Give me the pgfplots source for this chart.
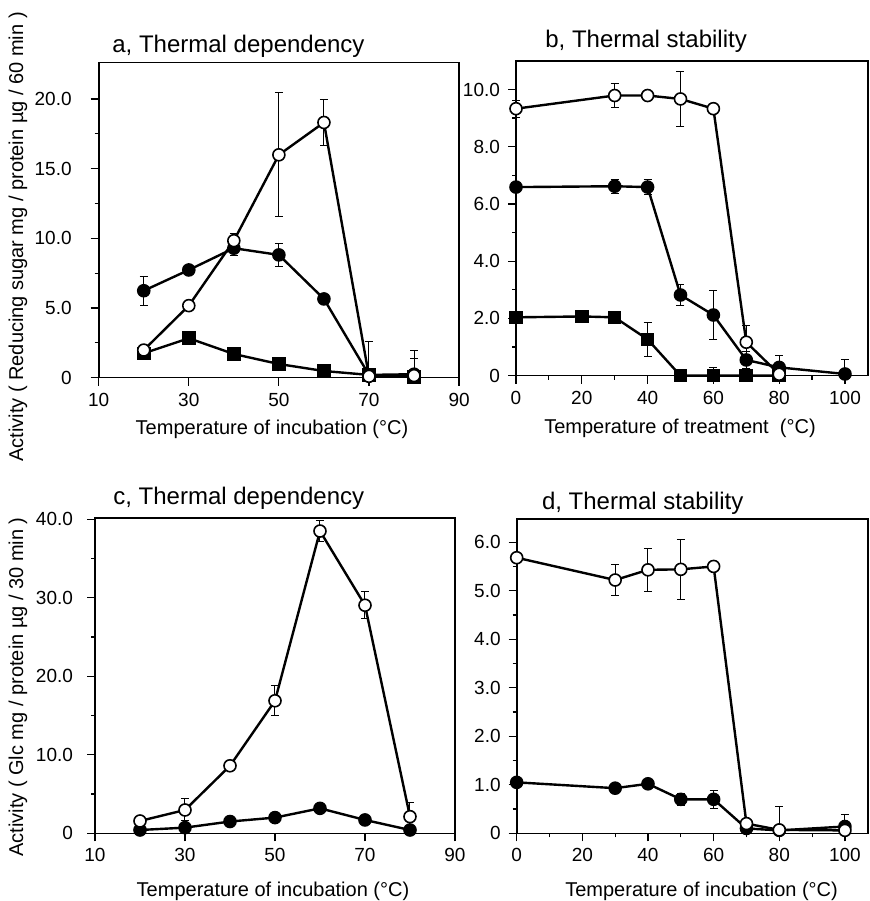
\documentclass[border=0pt]{standalone}
\usepackage{fontspec}
\setmainfont{Liberation Sans}
\usepackage{pgfplots}
\pgfplotsset{compat=1.18}

\pgfplotsset{
  panel/.style={
    scale only axis, anchor=south west, clip=false,
    axis line style={line width=0.8pt},
    tick align=outside, xtick pos=bottom, ytick pos=left,
    major tick length=4pt, minor tick length=2pt,
    tick style={line width=0.6pt, black},
    minor y tick num=1,
    tick label style={font=\fontsize{9.5}{10}\selectfont},
    /pgf/number format/assume math mode=true,
  },
  series/.style={black, line width=1.2pt, mark size=3pt,
    error bars/.cd, y dir=both, y explicit,
    error bar style={line width=0.5pt},
    error mark options={rotate=90, mark size=2pt, line width=0.5pt},
    /pgfplots/.cd},
  filled/.style={series, mark=*, mark options={solid, fill=black, line width=0.8pt}},
  open/.style={series, mark=*, mark options={solid, fill=white, line width=0.8pt}},
  square/.style={series, mark=square*, mark options={solid, fill=black, line width=0.8pt}},
}
\tikzset{
  ttl/.style={anchor=base west, inner sep=0pt, font=\fontsize{12}{14}\selectfont},
  lbl/.style={inner sep=0pt, font=\fontsize{10}{12}\selectfont},
}

\begin{document}
\begin{tikzpicture}
\useasboundingbox (0,0) rectangle (435pt,450.5pt);

% a, Thermal dependency
\begin{axis}[panel, at={(49.35pt,261.65pt)}, width=180.2pt, height=157.5pt,
  xmin=10, xmax=90, ymin=0, ymax=22.6,
  xtick={10,30,50,70,90}, yticklabel style={xshift=-6pt},
  ytick={0,5,10,15,20}, yticklabels={0,5.0,10.0,15.0,20.0}]
\addplot[square] coordinates {
  (20,1.75) +- (0,0.45) (30,2.83) (40,1.70)
  (50,0.98) (60,0.48) (70,0.2) (80,0.05)};
\addplot[filled] coordinates {
  (20,6.24) +- (0,1.05) (30,7.73) (40,9.29) +- (0,0.55)
  (50,8.81) +- (0,0.84) (60,5.65) (70,0.2) (80,0.25) += (0,1.15) -= (0,0.25)};
\addplot[open] coordinates {
  (20,1.98) +- (0,0.3) (30,5.17) (40,9.83) +- (0,0.55)
  (50,15.99) +- (0,4.45) (60,18.31) +- (0,1.67)
  (70,0.1) += (0,2.48) -= (0,0.1) (80,0.15) += (0,1.83) -= (0,0.15)};
\end{axis}

% b, Thermal stability
\begin{axis}[panel, at={(258pt,262.65pt)}, width=176pt, height=157.4pt,
  xmin=0, xmax=107, ymin=0, ymax=11,
  xtick={0,20,40,60,80,100}, minor x tick num=1, yticklabel style={xshift=-0.5pt},
  ytick={0,2,4,6,8,10}, yticklabels={0,2.0,4.0,6.0,8.0,10.0}]
\addplot[square] coordinates {
  (0,2.04) (20,2.07) (30,2.04) +- (0,0.2) (40,1.27) +- (0,0.6)
  (50,0) (60,0) += (0,0.28) -= (0,0) (70,0) (80,0)};
\addplot[filled] coordinates {
  (0,6.59) (30,6.62) +- (0,0.25) (40,6.59) +- (0,0.25) (50,2.82) +- (0,0.38)
  (60,2.12) +- (0,0.87) (70,0.55) +- (0,0.3) (80,0.29) += (0,0.43) -= (0,0.29)
  (100,0.06) += (0,0.49) -= (0,0.06)};
\addplot[open] coordinates {
  (0,9.33) +- (0,0.3) (30,9.79) +- (0,0.42) (40,9.79) (50,9.67) +- (0,0.96)
  (60,9.33) (70,1.17) +- (0,0.6) (80,0.05)};
\end{axis}

% c, Thermal dependency
\begin{axis}[panel, at={(47.5pt,33.85pt)}, width=180pt, height=157.8pt,
  xmin=10, xmax=90, ymin=0, ymax=40.2,
  xtick={10,30,50,70,90}, yticklabel style={xshift=-3.5pt},
  ytick={0,10,20,30,40}, yticklabels={0,10.0,20.0,30.0,40.0}]
\addplot[filled] coordinates {
  (20,0.42) (30,0.72) +- (0,0.5) (40,1.5) (50,2.0)
  (60,3.18) (70,1.7) (80,0.42)};
\addplot[open] coordinates {
  (20,1.57) +- (0,0.6) (30,2.97) +- (0,1.4) (40,8.6) (50,16.88) +- (0,1.9)
  (60,38.5) +- (0,1.3) (70,29.05) +- (0,1.7) (80,2.12) +- (0,1.8)};
\end{axis}

% d, Thermal stability
\begin{axis}[panel, at={(258.35pt,33.85pt)}, width=175.6pt, height=157.2pt,
  xmin=0, xmax=107, ymin=0, ymax=6.48,
  xtick={0,20,40,60,80,100}, minor x tick num=1, yticklabel style={xshift=-0.5pt},
  ytick={0,1,2,3,4,5,6}, yticklabels={0,1.0,2.0,3.0,4.0,5.0,6.0}]
\addplot[filled] coordinates {
  (0,1.05) (30,0.93) (40,1.02) (50,0.7) +- (0,0.12)
  (60,0.7) +- (0,0.19) (70,0.1) (80,0.06) (100,0.14) += (0,0.24) -= (0,0.14)};
\addplot[open] coordinates {
  (0,5.68) (30,5.22) +- (0,0.32) (40,5.43) +- (0,0.45) (50,5.44) +- (0,0.62)
  (60,5.5) (70,0.2) (80,0.07) += (0,0.49) -= (0,0.07) (100,0.06)};
\end{axis}

% titles
\node[ttl] at (56pt,424pt) {a, Thermal dependency};
\node[ttl] at (272.5pt,426.5pt) {b, Thermal stability};
\node[ttl] at (56.5pt,198pt) {c, Thermal dependency};
\node[ttl] at (270.8pt,195.5pt) {d, Thermal stability};

% axis labels
\node[lbl, anchor=base] at (136pt,233pt) {Temperature of incubation (°C)};
\node[lbl, anchor=base] at (340pt,233.5pt) {Temperature of treatment\ \ (°C)};
\node[lbl, anchor=base] at (136.5pt,2.3pt) {Temperature of incubation (°C)};
\node[lbl, anchor=base] at (350.8pt,2.3pt) {Temperature of incubation (°C)};
\node[lbl, rotate=90] at (9pt,332pt) {Activity ( Reducing sugar mg / protein µg / 60 min )};
\node[lbl, rotate=90] at (9pt,107pt) {Activity ( Glc mg / protein µg / 30 min )};
\end{tikzpicture}
\end{document}
